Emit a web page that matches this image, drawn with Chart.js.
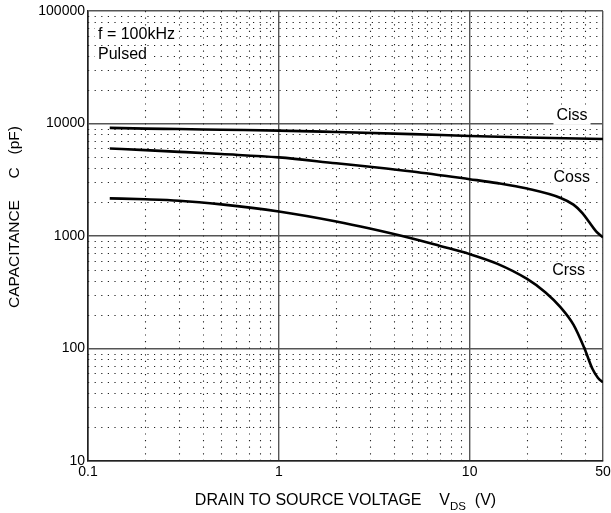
<!DOCTYPE html>
<html>
<head>
<meta charset="utf-8">
<script src="https://cdn.jsdelivr.net/npm/chart.js@4"></script>
<style>
  html, body { margin: 0; padding: 0; background: #fff; }
  #wrap { width: 611px; height: 513px; position: relative; }
</style>
</head>
<body>
<div id="wrap"><canvas id="myChart"></canvas></div>
<script>
// values (V in volts, C in pF)
const cissV = [0.13, 0.2, 0.3, 0.5, 1, 2, 5, 10, 20, 50];
const cissC = [9150, 9000, 8930, 8800, 8650, 8400, 8050, 7750, 7500, 7280];

const cossV = [0.13, 0.2, 0.3, 0.5, 1, 2, 3, 5, 10, 14, 20, 30, 35, 39, 42, 46, 50];
const cossC = [6000, 5800, 5600, 5350, 5000, 4430, 4130, 3750, 3200, 2950, 2640, 2180, 1900, 1600, 1350, 1100, 970];

const crssV = [0.13, 0.2, 0.3, 0.5, 1, 2, 3, 5, 7, 10, 14, 20, 25, 30, 35, 40, 44, 47, 50];
const crssC = [2160, 2120, 2060, 1910, 1650, 1345, 1165, 950, 815, 690, 565, 415, 315, 232, 163, 100, 66, 55, 50];

const xTicks = [0.1, 1, 10, 50];
const yTicks = [10, 100, 1000, 10000, 100000];
const xMinor = [0.2, 0.3, 0.4, 0.5, 0.6, 0.7, 0.8, 0.9, 2, 3, 4, 5, 6, 7, 8, 9, 20, 30, 40];
const yMinor = [];
[10, 100, 1000, 10000].forEach((d) => {
  for (let k = 2; k <= 9; k++) yMinor.push(d * k);
});

const toPoints = (xs, ys) => xs.map((x, i) => ({ x: x, y: ys[i] }));

// curve labels placed in data coordinates
const curveLabels = [
  { text: "Ciss", x: 34.4, y: 11700 },
  { text: "Coss", x: 34.3, y: 3300 },
  { text: "Crss", x: 33, y: 492 },
];

const FONT = "'Liberation Sans', Arial, sans-serif";

const minorGrid = {
  id: "minorGrid",
  beforeDatasetsDraw(chart) {
    const { ctx, chartArea, scales } = chart;
    ctx.save();
    ctx.strokeStyle = "#222";
    ctx.lineWidth = 1.1;
    ctx.setLineDash([1.2, 5.4]);
    xMinor.forEach((v) => {
      const px = Math.round(scales.x.getPixelForValue(v)) + 0.5;
      ctx.beginPath();
      ctx.moveTo(px, chartArea.top);
      ctx.lineTo(px, chartArea.bottom);
      ctx.stroke();
    });
    yMinor.forEach((v) => {
      const py = Math.round(scales.y.getPixelForValue(v)) + 0.5;
      ctx.beginPath();
      ctx.moveTo(chartArea.left, py);
      ctx.lineTo(chartArea.right, py);
      ctx.stroke();
    });
    ctx.restore();
  },
};

const drawBoxedText = (ctx, text, x, y, align) => {
  ctx.font = "16px " + FONT;
  const w = ctx.measureText(text).width;
  const left = align === "left" ? x : x - w / 2;
  ctx.fillStyle = "#fff";
  ctx.fillRect(left - 3, y - 9, w + 6, 18);
  ctx.fillStyle = "#000";
  ctx.textAlign = "left";
  ctx.textBaseline = "middle";
  ctx.fillText(text, left, y);
};

const labelsPlugin = {
  id: "labelsPlugin",
  afterDatasetsDraw(chart) {
    const { ctx, chartArea, scales } = chart;
    ctx.save();
    curveLabels.forEach((l) => {
      drawBoxedText(ctx, l.text, scales.x.getPixelForValue(l.x), scales.y.getPixelForValue(l.y), "center");
    });
    drawBoxedText(ctx, "f = 100kHz", chartArea.left + 10, chartArea.top + 24, "left");
    drawBoxedText(ctx, "Pulsed", chartArea.left + 10, chartArea.top + 44, "left");

    // x axis title with subscript
    ctx.fillStyle = "#000";
    ctx.textBaseline = "alphabetic";
    ctx.textAlign = "left";
    const main = "DRAIN TO SOURCE VOLTAGE    V";
    const tail = "  (V)";
    ctx.font = "16px " + FONT;
    const w1 = ctx.measureText(main).width;
    const w3 = ctx.measureText(tail).width;
    ctx.font = "11.5px " + FONT;
    const w2 = ctx.measureText("DS").width;
    const cx = (chartArea.left + chartArea.right) / 2;
    const x0 = cx - (w1 + w2 + w3) / 2;
    const ty = 505;
    ctx.font = "16px " + FONT;
    ctx.fillText(main, x0, ty);
    ctx.font = "11.5px " + FONT;
    ctx.fillText("DS", x0 + w1, ty + 5);
    ctx.font = "16px " + FONT;
    ctx.fillText(tail, x0 + w1 + w2, ty);

    // y axis title, starts near the lower end
    ctx.translate(19, 308);
    ctx.rotate(-Math.PI / 2);
    ctx.font = "15.5px " + FONT;
    ctx.fillText("CAPACITANCE     C   (pF)", 0, 0);
    ctx.restore();
  },
};

const lineStyle = {
  borderColor: "#000",
  borderWidth: 2.6,
  pointRadius: 0,
  fill: false,
  cubicInterpolationMode: "monotone",
};

const canvas = document.getElementById("myChart").getContext("2d");
let dataChart = new Chart(canvas, {
  type: "line",
  data: {
    datasets: [
      { label: "Ciss", data: toPoints(cissV, cissC), ...lineStyle },
      { label: "Coss", data: toPoints(cossV, cossC), ...lineStyle },
      { label: "Crss", data: toPoints(crssV, crssC), ...lineStyle },
    ],
  },
  options: {
    responsive: true,
    maintainAspectRatio: false,
    animation: false,
    layout: { padding: { left: 0, top: 11, right: 8, bottom: 0 } },
    plugins: {
      legend: { display: false },
      tooltip: { enabled: false },
    },
    scales: {
      x: {
        type: "logarithmic",
        min: 0.1,
        max: 50,
        afterBuildTicks: (scale) => {
          scale.ticks = xTicks.map((v) => ({ value: v }));
        },
        afterFit: (scale) => {
          scale.height = 52;
          scale.paddingLeft = 0;
          scale.paddingRight = 0;
        },
        ticks: {
          autoSkip: false,
          maxRotation: 0,
          padding: 3,
          color: "#000",
          font: { size: 14, family: FONT },
          callback: (v) => String(v),
        },
        grid: { color: "#555", lineWidth: 1.4, drawTicks: false },
        border: { color: "#222", width: 1.6 },
      },
      y: {
        type: "logarithmic",
        min: 10,
        max: 100000,
        afterBuildTicks: (scale) => {
          scale.ticks = yTicks.map((v) => ({ value: v }));
        },
        afterFit: (scale) => {
          scale.width = 88;
          scale.paddingTop = 0;
          scale.paddingBottom = 0;
        },
        ticks: {
          autoSkip: false,
          padding: 3,
          color: "#000",
          font: { size: 14, family: FONT },
          callback: (v) => String(v),
        },
        grid: { color: "#555", lineWidth: 1.4, drawTicks: false },
        border: { color: "#222", width: 1.6 },
      },
    },
  },
  plugins: [minorGrid, labelsPlugin],
});
</script>
</body>
</html>
